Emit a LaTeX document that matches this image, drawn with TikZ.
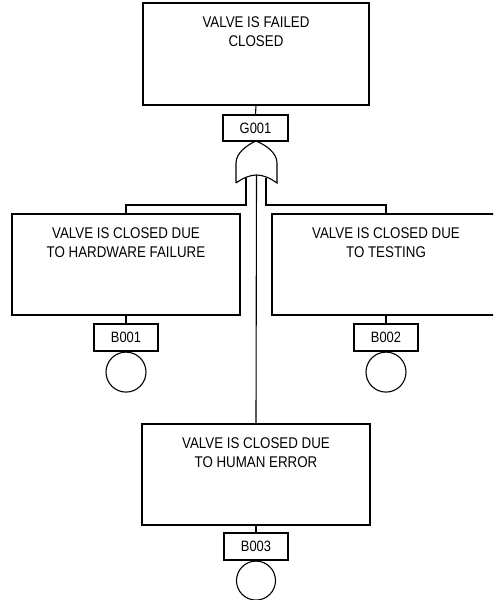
\documentclass[tikz,border=0pt]{standalone}
\usepackage{fontspec}
\setmainfont{Liberation Sans}[FakeStretch=0.86]
\usetikzlibrary{positioning}

\tikzset{
  event/.style={draw, line width=1.1pt, minimum width=228pt, minimum height=101pt, inner sep=0pt},
  evtext/.style={align=center, inner sep=0pt, font=\fontsize{15.5}{19}\selectfont},
  idbox/.style={draw, line width=1.1pt, minimum width=64pt, minimum height=27pt, inner sep=0pt, font=\fontsize{15}{18}\selectfont},
  basic/.style={draw, line width=1.1pt, circle, minimum size=40pt, inner sep=0pt},
}

\begin{document}
\begin{tikzpicture}[x=1pt,y=1pt,line width=1.1pt]
\clip (0,0) rectangle (493,600);

% top event and gate
\node[event, minimum width=226pt, minimum height=102pt] (top) at (256,546) {};
\node[evtext, below=14pt of top.north] (toptext) {VALVE IS FAILED\\CLOSED};
\node[idbox, minimum width=65pt, minimum height=26pt] (g1) at (255.5,472) {G001};
\draw (top.south) -- (g1.north);

\coordinate (tip) at (256,459);
\coordinate (gl) at (236,417);
\coordinate (gr) at (277,417);
\coordinate (gin) at (256.5,425);
\draw (gl) -- (236,437) .. controls (236,447) and (247,455) .. (tip)
      .. controls (266,455) and (277,447) .. (277,437) -- (gr)
      .. controls (270,422) and (263,425) .. (gin)
      .. controls (250,425) and (243,422) .. (gl);

% inputs
\node[event] (hw) at (126,335.5) {};
\node[evtext, below=14pt of hw.north] (hwtext) {VALVE IS CLOSED DUE\\TO HARDWARE FAILURE};
\node[event] (test) at (386,335.5) {};
\node[evtext, below=14pt of test.north] (testtext) {VALVE IS CLOSED DUE\\TO TESTING};
\node[event] (human) at (256,125.5) {};
\node[evtext, below=14pt of human.north] (humantext) {VALVE IS CLOSED DUE\\TO HUMAN ERROR};

\coordinate (pl) at (246,422);
\coordinate (pr) at (266,422);
\draw (pl) -- (246,395) -| (hw.north);
\draw (pr) -- (266,395) -| (test.north);
\draw (gin) -- (human.north);

% basic events
\node[idbox] (b1) at (126,262.5) {B001};
\node[basic, below=0pt of b1] (c1) {};
\draw (hw.south) -- (b1.north);
\node[idbox] (b2) at (386,262.5) {B002};
\node[basic, below=0pt of b2] (c2) {};
\draw (test.south) -- (b2.north);
\node[idbox] (b3) at (256,53.5) {B003};
\node[basic, minimum size=39pt, below=0pt of b3] (c3) {};
\draw (human.south) -- (b3.north);

\end{tikzpicture}
\end{document}
